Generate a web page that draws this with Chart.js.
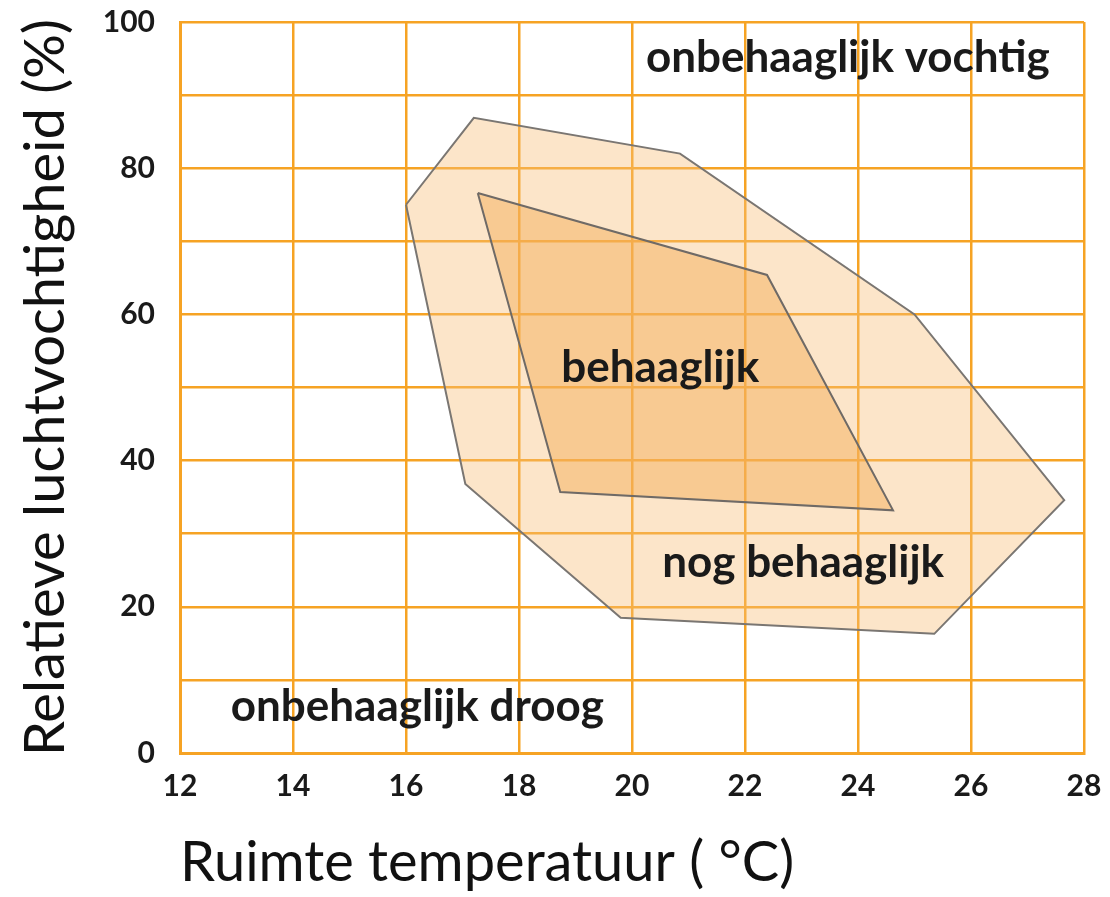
<!DOCTYPE html>
<html>
<head>
<meta charset="utf-8">
<script src="https://cdn.jsdelivr.net/npm/chart.js@4/dist/chart.umd.min.js"></script>
<style>
  html, body { margin: 0; padding: 0; background: #ffffff; }
  #wrap { width: 1110px; height: 897px; }
</style>
</head>
<body>
<div id="wrap"><canvas id="c" width="1110" height="897"></canvas></div>
<script>
// ---- data ----
// outer zone "nog behaaglijk" (temperature °C, relative humidity %), first vertex repeated to close
const outerTemp = [16.0, 17.2, 20.85, 25.0, 27.65, 25.35, 19.8, 17.05, 16.0];
const outerRH   = [75.0, 86.9, 82.0, 60.0, 34.6, 16.3, 18.5, 36.8, 75.0];
// inner zone "behaaglijk"
const innerTemp = [17.27, 22.39, 24.62, 18.73, 17.27];
const innerRH   = [76.6, 65.4, 33.2, 35.7, 76.6];

const xTicks = [12, 14, 16, 18, 20, 22, 24, 26, 28];
const yTickLabels = [0, 20, 40, 60, 80, 100];

const zoneText = ['onbehaaglijk vochtig', 'behaaglijk', 'nog behaaglijk', 'onbehaaglijk droog'];
const zoneTextTemp = [23.82, 20.5, 23.03, 16.2];
const zoneTextRH = [95.1, 52.7, 26.0, 6.3];

function toPoints(xs, ys) { return xs.map((x, i) => ({ x: x, y: ys[i] })); }

const ORANGE = '#F6A324';

const polygonFill = {
  id: 'polygonFill',
  beforeDatasetDraw(chart, args) {
    const ds = chart.data.datasets[args.index];
    if (!ds.polyColor) return;
    const pts = args.meta.data;
    const ctx = chart.ctx;
    ctx.save();
    ctx.beginPath();
    pts.forEach((p, i) => { if (i === 0) ctx.moveTo(p.x, p.y); else ctx.lineTo(p.x, p.y); });
    ctx.closePath();
    ctx.fillStyle = ds.polyColor;
    ctx.fill();
    ctx.restore();
  }
};

const zoneLabels = {
  id: 'zoneLabels',
  afterDatasetsDraw(chart) {
    const ctx = chart.ctx;
    const xs = chart.scales.x, ys = chart.scales.y;
    ctx.save();
    ctx.font = 'bold 44px Lato';
    ctx.fillStyle = '#1a1a1a';
    ctx.textAlign = 'center';
    ctx.textBaseline = 'middle';
    zoneText.forEach((t, i) => {
      ctx.fillText(t, xs.getPixelForValue(zoneTextTemp[i]), ys.getPixelForValue(zoneTextRH[i]));
    });
    ctx.restore();
  }
};

new Chart(document.getElementById('c'), {
  type: 'scatter',
  data: {
    datasets: [
      {
        label: 'behaaglijk',
        data: toPoints(innerTemp, innerRH),
        showLine: true,
        borderColor: '#6f6a66',
        borderWidth: 2,
        pointRadius: 0,
        polyColor: 'rgba(245,170,80,0.45)',
        tension: 0
      },
      {
        label: 'nog behaaglijk',
        data: toPoints(outerTemp, outerRH),
        showLine: true,
        borderColor: '#7a7672',
        borderWidth: 2,
        pointRadius: 0,
        polyColor: 'rgba(248,190,120,0.4)',
        tension: 0
      }
    ]
  },
  options: {
    responsive: false,
    animation: false,
    layout: { padding: { top: 22, right: 26, left: 0, bottom: 0 } },
    plugins: { legend: { display: false }, tooltip: { enabled: false } },
    scales: {
      x: {
        type: 'linear',
        min: 12, max: 28,
        afterBuildTicks(scale) { scale.ticks = xTicks.map(v => ({ value: v })); },
        afterFit(scale) { scale.height = 144; scale.paddingLeft = 0; scale.paddingRight = 0; },
        grid: { color: ORANGE, lineWidth: 2.5, drawTicks: false },
        border: { color: ORANGE, width: 3 },
        ticks: { color: '#1a1a1a', font: { family: 'Lato', size: 30, weight: 'bold' }, padding: 15 },
        title: {
          display: true, align: 'start',
          text: 'Ruimte temperatuur ( °C)',
          color: '#111', font: { family: 'Lato', size: 56 },
          padding: { top: 0, bottom: 0 }
        }
      },
      y: {
        type: 'linear',
        min: 0, max: 100,
        ticks: {
          stepSize: 10,
          color: '#1a1a1a', font: { family: 'Lato', size: 30, weight: 'bold' }, padding: 25,
          callback: v => (yTickLabels.includes(v) ? String(v) : '')
        },
        afterFit(scale) { scale.width = 180; scale.paddingTop = 0; scale.paddingBottom = 0; },
        grid: { color: ORANGE, lineWidth: 2.5, drawTicks: false },
        border: { color: ORANGE, width: 3 },
        title: {
          display: true,
          text: 'Relatieve luchtvochtigheid (%)',
          color: '#111', font: { family: 'Lato', size: 56 },
          padding: { top: 12, bottom: 0 }
        }
      }
    }
  },
  plugins: [polygonFill, zoneLabels]
});
</script>
</body>
</html>
